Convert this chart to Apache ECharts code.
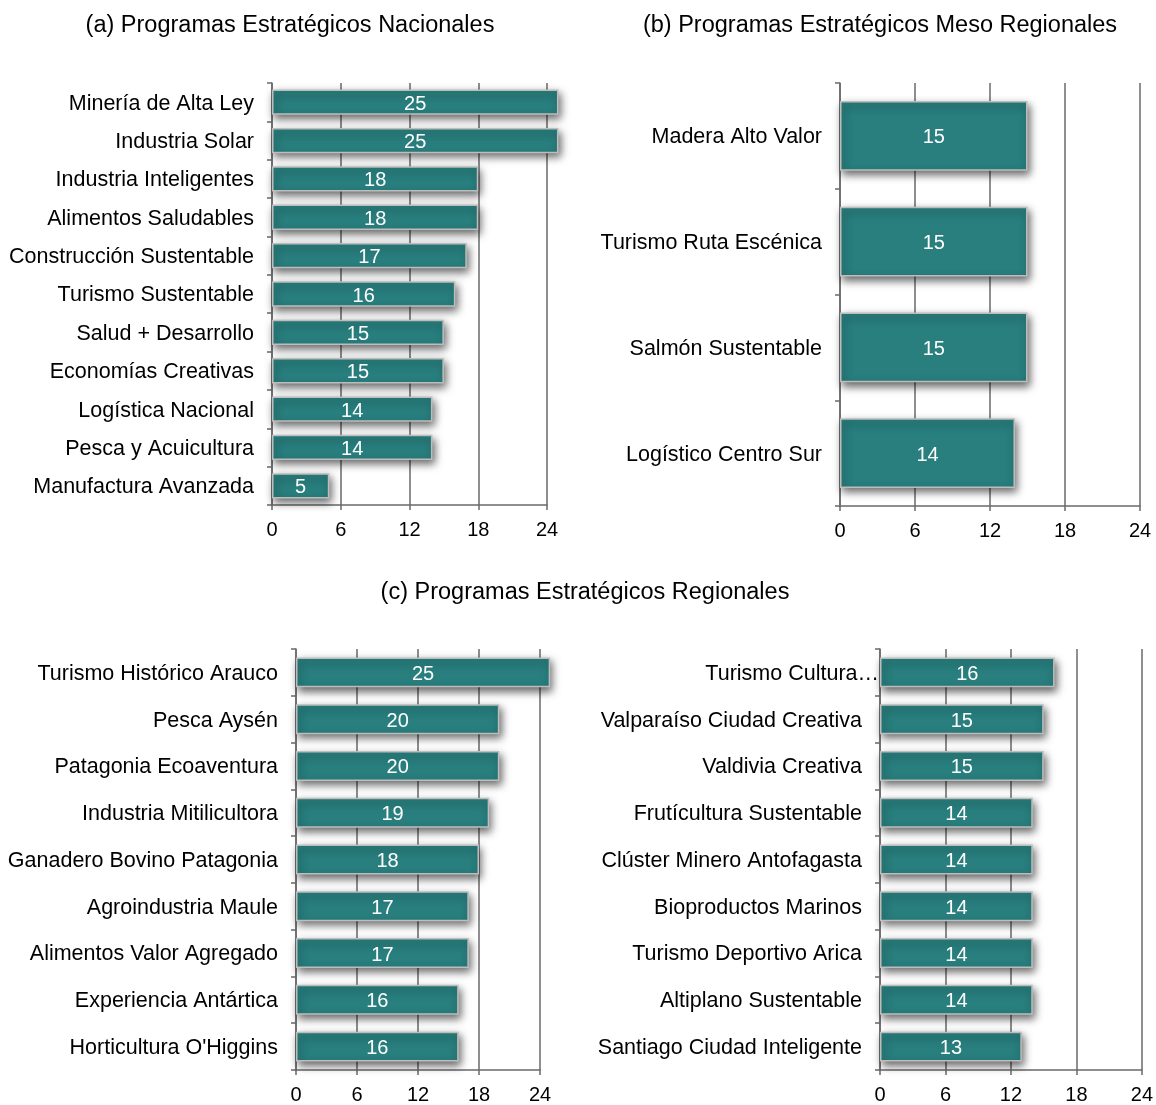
<!DOCTYPE html>
<html>
<head>
<meta charset="utf-8">
<script src="https://cdn.jsdelivr.net/npm/echarts@6/dist/echarts.min.js"></script>
<style>
  html, body { margin: 0; padding: 0; background: #fff; }
  #chart { width: 1156px; height: 1105px; }
</style>
</head>
<body>
<div id="chart"></div>
<script>
// (a) National strategic programmes
const nacionalesCats = ['Minería de Alta Ley', 'Industria Solar', 'Industria Inteligentes', 'Alimentos Saludables',
  'Construcción Sustentable', 'Turismo Sustentable', 'Salud + Desarrollo', 'Economías Creativas',
  'Logística Nacional', 'Pesca y Acuicultura', 'Manufactura Avanzada'];
const nacionalesVals = [25, 25, 18, 18, 17, 16, 15, 15, 14, 14, 5];

// (b) Meso-regional strategic programmes
const mesoCats = ['Madera Alto Valor', 'Turismo Ruta Escénica', 'Salmón Sustentable', 'Logístico Centro Sur'];
const mesoVals = [15, 15, 15, 14];

// (c) Regional strategic programmes, split in two columns
const regionalesCats1 = ['Turismo Histórico Arauco', 'Pesca Aysén', 'Patagonia Ecoaventura', 'Industria Mitilicultora',
  'Ganadero Bovino Patagonia', 'Agroindustria Maule', 'Alimentos Valor Agregado', 'Experiencia Antártica',
  "Horticultura O'Higgins"];
const regionalesVals1 = [25, 20, 20, 19, 18, 17, 17, 16, 16];

const regionalesCats2 = ['Turismo Cultura…', 'Valparaíso Ciudad Creativa', 'Valdivia Creativa', 'Frutícultura Sustentable',
  'Clúster Minero Antofagasta', 'Bioproductos Marinos', 'Turismo Deportivo Arica', 'Altiplano Sustentable',
  'Santiago Ciudad Inteligente'];
const regionalesVals2 = [16, 15, 15, 14, 14, 14, 14, 14, 13];

const xTicks = [0, 6, 12, 18, 24];

const FONT = 'Liberation Sans, Arial, sans-serif';
const LINE = '#6a6a6a';
const BAR = '#287f7e';
const CAT_SIZE = 21.5;
const CAT_GAP = 18;

const panels = [
  { cats: nacionalesCats, vals: nacionalesVals, grid: { left: 272, top: 83, width: 275, height: 422 } },
  { cats: mesoCats, vals: mesoVals, grid: { left: 840, top: 83, width: 300, height: 423 } },
  { cats: regionalesCats1, vals: regionalesVals1, grid: { left: 296, top: 649, width: 244, height: 423 } },
  { cats: regionalesCats2, vals: regionalesVals2, grid: { left: 880, top: 649, width: 262, height: 423 } }
];

const titleStyle = { fontSize: 23.5, fontWeight: 'normal', color: '#000', fontFamily: FONT };

// Category labels: a truncated name (ending in an ellipsis) runs right up to the axis
const catLabel = {
  fontSize: CAT_SIZE,
  color: '#000',
  margin: 0,
  fontFamily: FONT,
  formatter: v => (v.endsWith('…') ? '{t|' + v + '}' : '{n|' + v + '}'),
  rich: {
    n: { fontSize: CAT_SIZE, color: '#000', fontFamily: FONT, padding: [3, CAT_GAP, 0, 0] },
    t: { fontSize: CAT_SIZE, color: '#000', fontFamily: FONT, padding: [3, 1, 0, 0] }
  }
};

const option = {
  animation: false,
  backgroundColor: '#ffffff',
  textStyle: { fontFamily: FONT },
  title: [
    { text: '(a) Programas Estratégicos Nacionales', left: 285, top: 9, textAlign: 'center', textStyle: titleStyle },
    { text: '(b) Programas Estratégicos Meso Regionales', left: 875, top: 9, textAlign: 'center', textStyle: titleStyle },
    { text: '(c) Programas Estratégicos Regionales', left: 580, top: 576, textAlign: 'center', textStyle: titleStyle }
  ],
  grid: panels.map(p => Object.assign({ containLabel: false }, p.grid)),
  xAxis: panels.map((p, i) => ({
    type: 'value',
    gridIndex: i,
    min: xTicks[0],
    max: xTicks[xTicks.length - 1],
    interval: xTicks[1] - xTicks[0],
    axisLine: { show: true, lineStyle: { color: LINE, width: 1.5 } },
    axisTick: { show: true, length: 5, lineStyle: { color: LINE, width: 1.5 } },
    splitLine: { show: true, lineStyle: { color: LINE, width: 1.5 } },
    axisLabel: { fontSize: 20, color: '#000', margin: 15, fontFamily: FONT }
  })),
  yAxis: panels.map((p, i) => ({
    type: 'category',
    gridIndex: i,
    data: p.cats,
    inverse: true,
    axisLine: { show: true, lineStyle: { color: LINE, width: 1.5 } },
    axisTick: { show: true, length: 5, lineStyle: { color: LINE, width: 1.5 } },
    axisLabel: catLabel
  })),
  series: panels.map((p, i) => ({
    type: 'bar',
    xAxisIndex: i,
    yAxisIndex: i,
    data: p.vals,
    clip: false,
    barCategoryGap: i < 2 ? '34%' : '36%',
    itemStyle: {
      color: BAR,
      borderColor: '#bdbdbd',
      borderWidth: 1.5,
      shadowColor: 'rgba(0,0,0,0.6)',
      shadowBlur: 8,
      shadowOffsetX: 2,
      shadowOffsetY: 4
    },
    label: {
      show: true,
      position: 'inside',
      color: '#ffffff',
      fontSize: 20,
      offset: [0, 2],
      fontFamily: FONT
    }
  }))
};

const chart = echarts.init(document.getElementById('chart'), null, { renderer: 'canvas' });
chart.setOption(option);
</script>
</body>
</html>
